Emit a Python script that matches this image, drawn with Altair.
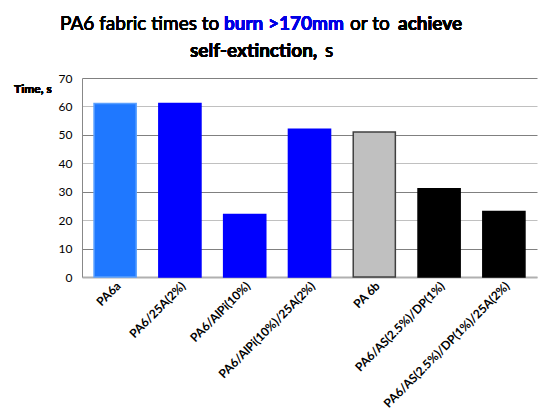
import altair as alt
import pandas as pd

categories = ["PA6a", "PA6/25A(2%)", "PA6/AlPi(10%)", "PA6/AlPi(10%)/25A(2%)",
              "PA 6b", "PA6/AS(2.5%)/DP(1%)", "PA6/AS(2.5%)/DP(1%)/25A(2%)"]
values = [61, 61, 22, 52, 51, 31, 23]
colors = ["#1F78FF", "#0000FF", "#0000FF", "#0000FF", "#C0C0C0", "#000000", "#000000"]
strokes = ["#5AA0FF", "#0000FF", "#0000FF", "#0000FF", "#404040", "#000000", "#000000"]
y_ticks = [0, 10, 20, 30, 40, 50, 60, 70]

title_text = ["PA6 fabric times to", "burn >170mm", "or to", "achieve", "self-extinction,", "s"]
title_color = ["#000000", "#0000E6", "#000000", "#000000", "#000000", "#000000"]
title_weight = ["normal", "bold", "normal", "bold", "bold", "normal"]

df = pd.DataFrame({"cat": categories, "val": values, "color": colors, "stroke": strokes})

FONT = "Lato"

bars = alt.Chart(df).mark_bar(strokeWidth=1.5).encode(
    x=alt.X("cat:N", sort=categories, title=None,
            scale=alt.Scale(paddingInner=0.35, paddingOuter=0.186),
            axis=alt.Axis(labelAngle=-45, labelFont=FONT, labelFontWeight="bold",
                          labelFontSize=12, labelColor="#000", labelPadding=3,
                          ticks=False, domainColor="#B0B0B0", domainWidth=2,
                          labelLimit=300)),
    y=alt.Y("val:Q", title=None,
            scale=alt.Scale(domain=[0, 70], nice=False),
            axis=alt.Axis(values=y_ticks, labelFont=FONT, labelFontSize=12,
                          labelColor="#000", labelPadding=10, ticks=False,
                          domainColor="#888888",
                          gridColor={"condition": {"test": "datum.value % 20 == 10",
                                                   "value": "#808080"},
                                     "value": "#C0C0C0"})),
    color=alt.Color("color:N", scale=None),
    stroke=alt.Stroke("stroke:N", scale=None),
)

layers = [bars]
xs = [-22, 142, 268, 316, 108, 243]
ys = [-48, -48, -48, -48, -21, -21]
for t, c, w, x, y in zip(title_text, title_color, title_weight, xs, ys):
    layers.append(
        alt.Chart(df).mark_text(text=t, color=c, fontWeight=w, font=FONT, fontSize=19,
                                align="left", baseline="alphabetic").encode(
            x=alt.value(x), y=alt.value(y))
    )

layers.append(
    alt.Chart(df).mark_text(text="Time, s", color="#000", fontWeight="bold", font=FONT,
                            fontSize=12, align="left", baseline="alphabetic").encode(
        x=alt.value(-68), y=alt.value(15))
)

chart = alt.layer(*layers).properties(
    width=455, height=199,
    padding={"left": 74, "top": 70, "right": 5, "bottom": 133},
    autosize=alt.AutoSizeParams(type="none"),
).configure_view(stroke=None)

chart.save("out.html", embed_options={"renderer": "svg", "actions": False})
